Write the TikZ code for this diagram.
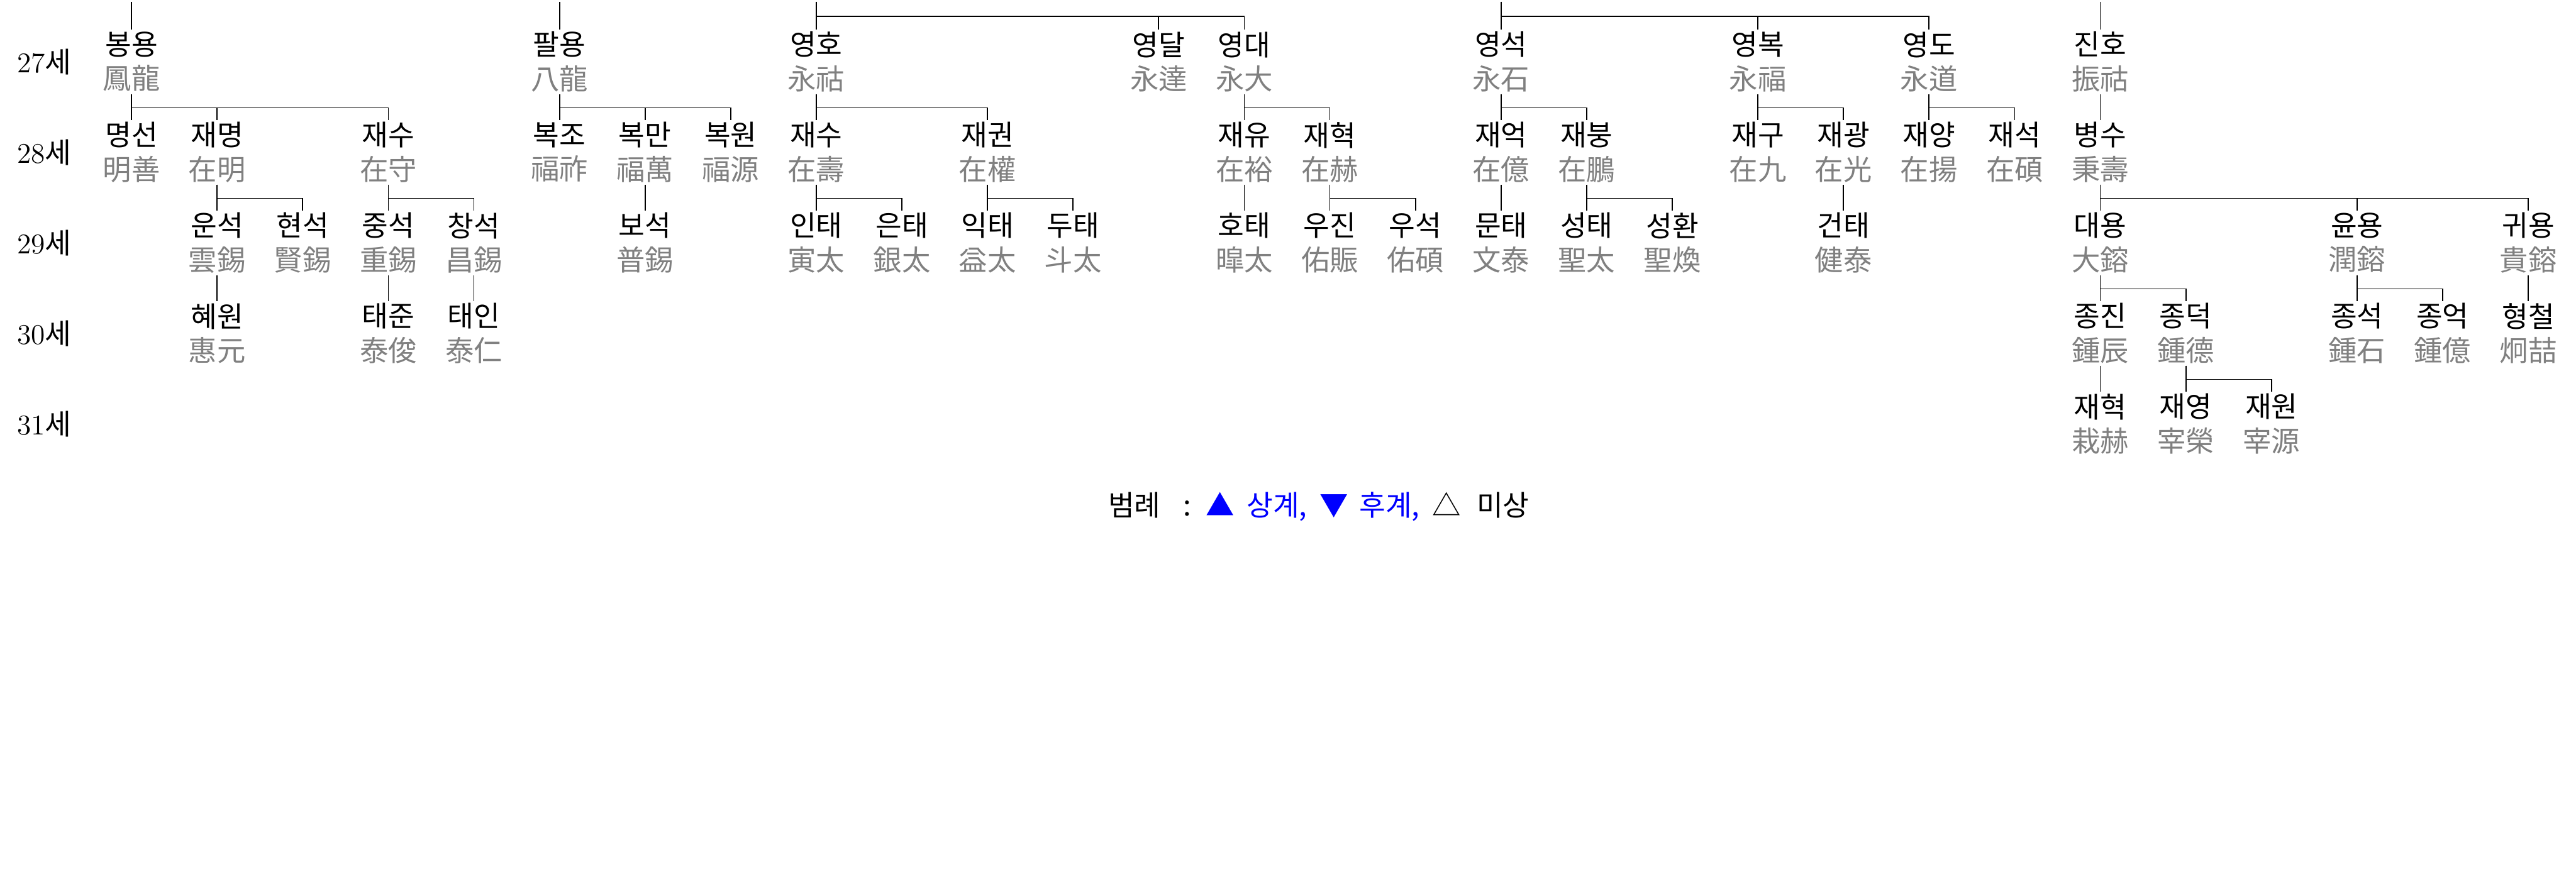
\documentclass[tikz,border=0pt]{standalone}
\usepackage{fontspec}
\newfontfamily\kr{Noto Sans CJK KR}
\usepackage{tikz}
\definecolor{hanja}{RGB}{128,128,128}

\begin{document}
\begin{tikzpicture}[x=34.5pt, y=-36.5pt,
  person/.style={align=center, inner sep=0pt, minimum height=25.75pt, font=\kr\fontsize{11.5}{13.75}\selectfont},
  gen/.style={inner sep=0pt, font=\fontsize{11.5}{13.75}\selectfont},
  link/.style={line width=0.45pt, black}]
\path[use as bounding box, fill=white] (-1.5362,-0.6815) rectangle (28.558,8.9486);

\node[gen] (g27) at (-1.02,0) {27{\kr 세}};
\node[gen] (g28) at (-1.02,1) {28{\kr 세}};
\node[gen] (g29) at (-1.02,2) {29{\kr 세}};
\node[gen] (g30) at (-1.02,3) {30{\kr 세}};
\node[gen] (g31) at (-1.02,4) {31{\kr 세}};

\coordinate (top0) at (0,-0.661);
\coordinate (top5) at (5,-0.661);
\coordinate (top8) at (8,-0.661);
\coordinate (top16) at (16,-0.661);
\coordinate (top23) at (23,-0.661);

\node[person] (bongyong) at (0,0) {봉용\\\textcolor{hanja}{鳳龍}};
\node[person] (palyong) at (5,0) {팔용\\\textcolor{hanja}{八龍}};
\node[person] (yeongho) at (8,0) {영호\\\textcolor{hanja}{永祜}};
\node[person] (yeongdal) at (12,0) {영달\\\textcolor{hanja}{永達}};
\node[person] (yeongdae) at (13,0) {영대\\\textcolor{hanja}{永大}};
\node[person] (yeongseok) at (16,0) {영석\\\textcolor{hanja}{永石}};
\node[person] (yeongbok) at (19,0) {영복\\\textcolor{hanja}{永福}};
\node[person] (yeongdo) at (21,0) {영도\\\textcolor{hanja}{永道}};
\node[person] (jinho) at (23,0) {진호\\\textcolor{hanja}{振祜}};

\node[person] (myeongseon) at (0,1) {명선\\\textcolor{hanja}{明善}};
\node[person] (jaemyeong) at (1,1) {재명\\\textcolor{hanja}{在明}};
\node[person] (jaesuA) at (3,1) {재수\\\textcolor{hanja}{在守}};
\node[person] (bokjo) at (5,1) {복조\\\textcolor{hanja}{福祚}};
\node[person] (bokman) at (6,1) {복만\\\textcolor{hanja}{福萬}};
\node[person] (bokwon) at (7,1) {복원\\\textcolor{hanja}{福源}};
\node[person] (jaesuB) at (8,1) {재수\\\textcolor{hanja}{在壽}};
\node[person] (jaegwon) at (10,1) {재권\\\textcolor{hanja}{在權}};
\node[person] (jaeyu) at (13,1) {재유\\\textcolor{hanja}{在裕}};
\node[person] (jaehyeokA) at (14,1) {재혁\\\textcolor{hanja}{在赫}};
\node[person] (jaeeok) at (16,1) {재억\\\textcolor{hanja}{在億}};
\node[person] (jaebung) at (17,1) {재붕\\\textcolor{hanja}{在鵬}};
\node[person] (jaegu) at (19,1) {재구\\\textcolor{hanja}{在九}};
\node[person] (jaegwang) at (20,1) {재광\\\textcolor{hanja}{在光}};
\node[person] (jaeyang) at (21,1) {재양\\\textcolor{hanja}{在揚}};
\node[person] (jaeseok) at (22,1) {재석\\\textcolor{hanja}{在碩}};
\node[person] (byeongsu) at (23,1) {병수\\\textcolor{hanja}{秉壽}};

\node[person] (unseok) at (1,2) {운석\\\textcolor{hanja}{雲錫}};
\node[person] (hyeonseok) at (2,2) {현석\\\textcolor{hanja}{賢錫}};
\node[person] (jungseok) at (3,2) {중석\\\textcolor{hanja}{重錫}};
\node[person] (changseok) at (4,2) {창석\\\textcolor{hanja}{昌錫}};
\node[person] (boseok) at (6,2) {보석\\\textcolor{hanja}{普錫}};
\node[person] (intae) at (8,2) {인태\\\textcolor{hanja}{寅太}};
\node[person] (euntae) at (9,2) {은태\\\textcolor{hanja}{銀太}};
\node[person] (iktae) at (10,2) {익태\\\textcolor{hanja}{益太}};
\node[person] (dutae) at (11,2) {두태\\\textcolor{hanja}{斗太}};
\node[person] (hotae) at (13,2) {호태\\\textcolor{hanja}{暭太}};
\node[person] (ujin) at (14,2) {우진\\\textcolor{hanja}{佑賑}};
\node[person] (useok) at (15,2) {우석\\\textcolor{hanja}{佑碩}};
\node[person] (muntae) at (16,2) {문태\\\textcolor{hanja}{文泰}};
\node[person] (seongtae) at (17,2) {성태\\\textcolor{hanja}{聖太}};
\node[person] (seonghwan) at (18,2) {성환\\\textcolor{hanja}{聖煥}};
\node[person] (geontae) at (20,2) {건태\\\textcolor{hanja}{健泰}};
\node[person] (daeyong) at (23,2) {대용\\\textcolor{hanja}{大鎔}};
\node[person] (yunyong) at (26,2) {윤용\\\textcolor{hanja}{潤鎔}};
\node[person] (gwiyong) at (28,2) {귀용\\\textcolor{hanja}{貴鎔}};

\node[person] (hyewon) at (1,3) {혜원\\\textcolor{hanja}{惠元}};
\node[person] (taejun) at (3,3) {태준\\\textcolor{hanja}{泰俊}};
\node[person] (taein) at (4,3) {태인\\\textcolor{hanja}{泰仁}};
\node[person] (jongjin) at (23,3) {종진\\\textcolor{hanja}{鍾辰}};
\node[person] (jongdeok) at (24,3) {종덕\\\textcolor{hanja}{鍾德}};
\node[person] (jongseok) at (26,3) {종석\\\textcolor{hanja}{鍾石}};
\node[person] (jongeok) at (27,3) {종억\\\textcolor{hanja}{鍾億}};
\node[person] (hyeongcheol) at (28,3) {형철\\\textcolor{hanja}{炯喆}};

\node[person] (jaehyeokB) at (23,4) {재혁\\\textcolor{hanja}{栽赫}};
\node[person] (jaeyeong) at (24,4) {재영\\\textcolor{hanja}{宰榮}};
\node[person] (jaewon) at (25,4) {재원\\\textcolor{hanja}{宰源}};

\node[gen, font=\kr\fontsize{11.5}{13.75}\selectfont] (legend) at (13.87,4.914)
  {범례\hspace{9pt}:\hspace{6pt}\textcolor{blue}{▲\hspace{5pt}상계,\hspace{5pt}▼\hspace{4.5pt}후계,}\hspace{5pt}△\hspace{6.5pt}미상};

\draw[link] (top0) -- (bongyong.north);
\draw[link] (top5) -- (palyong.north);
\draw[link] (top8) -- (yeongho.north);
\draw[link] (top8) -- ++(0,-5.75pt) -| (yeongdal.north);
\draw[link] (top8) -- ++(0,-5.75pt) -| (yeongdae.north);
\draw[link] (top16) -- (yeongseok.north);
\draw[link] (top16) -- ++(0,-5.75pt) -| (yeongbok.north);
\draw[link] (top16) -- ++(0,-5.75pt) -| (yeongdo.north);
\draw[link] (top23) -- (jinho.north);

\draw[link] (bongyong.south) -- (myeongseon.north);
\draw[link] (bongyong.south) -- ++(0,-5.5pt) -| (jaemyeong.north);
\draw[link] (bongyong.south) -- ++(0,-5.5pt) -| (jaesuA.north);
\draw[link] (palyong.south) -- (bokjo.north);
\draw[link] (palyong.south) -- ++(0,-5.5pt) -| (bokman.north);
\draw[link] (palyong.south) -- ++(0,-5.5pt) -| (bokwon.north);
\draw[link] (yeongho.south) -- (jaesuB.north);
\draw[link] (yeongho.south) -- ++(0,-5.5pt) -| (jaegwon.north);
\draw[link] (yeongdae.south) -- (jaeyu.north);
\draw[link] (yeongdae.south) -- ++(0,-5.5pt) -| (jaehyeokA.north);
\draw[link] (yeongseok.south) -- (jaeeok.north);
\draw[link] (yeongseok.south) -- ++(0,-5.5pt) -| (jaebung.north);
\draw[link] (yeongbok.south) -- (jaegu.north);
\draw[link] (yeongbok.south) -- ++(0,-5.5pt) -| (jaegwang.north);
\draw[link] (yeongdo.south) -- (jaeyang.north);
\draw[link] (yeongdo.south) -- ++(0,-5.5pt) -| (jaeseok.north);
\draw[link] (jinho.south) -- (byeongsu.north);

\draw[link] (jaemyeong.south) -- (unseok.north);
\draw[link] (jaemyeong.south) -- ++(0,-5.5pt) -| (hyeonseok.north);
\draw[link] (jaesuA.south) -- (jungseok.north);
\draw[link] (jaesuA.south) -- ++(0,-5.5pt) -| (changseok.north);
\draw[link] (bokman.south) -- (boseok.north);
\draw[link] (jaesuB.south) -- (intae.north);
\draw[link] (jaesuB.south) -- ++(0,-5.5pt) -| (euntae.north);
\draw[link] (jaegwon.south) -- (iktae.north);
\draw[link] (jaegwon.south) -- ++(0,-5.5pt) -| (dutae.north);
\draw[link] (jaeyu.south) -- (hotae.north);
\draw[link] (jaehyeokA.south) -- (ujin.north);
\draw[link] (jaehyeokA.south) -- ++(0,-5.5pt) -| (useok.north);
\draw[link] (jaeeok.south) -- (muntae.north);
\draw[link] (jaebung.south) -- (seongtae.north);
\draw[link] (jaebung.south) -- ++(0,-5.5pt) -| (seonghwan.north);
\draw[link] (jaegwang.south) -- (geontae.north);
\draw[link] (byeongsu.south) -- (daeyong.north);
\draw[link] (byeongsu.south) -- ++(0,-5.5pt) -| (yunyong.north);
\draw[link] (byeongsu.south) -- ++(0,-5.5pt) -| (gwiyong.north);

\draw[link] (unseok.south) -- (hyewon.north);
\draw[link] (jungseok.south) -- (taejun.north);
\draw[link] (changseok.south) -- (taein.north);
\draw[link] (daeyong.south) -- (jongjin.north);
\draw[link] (daeyong.south) -- ++(0,-5.5pt) -| (jongdeok.north);
\draw[link] (yunyong.south) -- (jongseok.north);
\draw[link] (yunyong.south) -- ++(0,-5.5pt) -| (jongeok.north);
\draw[link] (gwiyong.south) -- (hyeongcheol.north);

\draw[link] (jongjin.south) -- (jaehyeokB.north);
\draw[link] (jongdeok.south) -- (jaeyeong.north);
\draw[link] (jongdeok.south) -- ++(0,-5.5pt) -| (jaewon.north);
\end{tikzpicture}
\end{document}
